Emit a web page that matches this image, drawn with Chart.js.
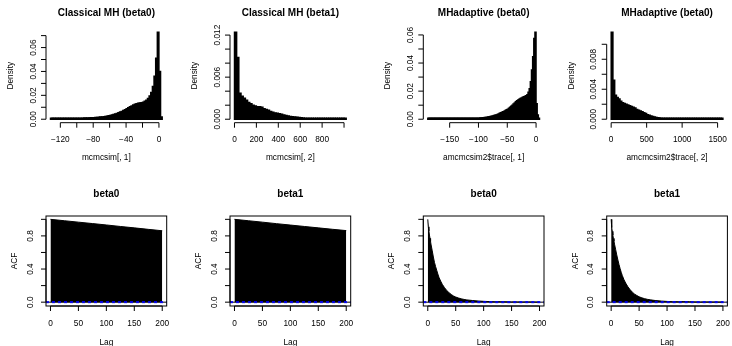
<!DOCTYPE html>
<html>
<head>
<meta charset="utf-8">
<title>MH vs MHadaptive: posterior histograms and ACF</title>
<script src="https://cdn.jsdelivr.net/npm/chart.js@4.4.1/dist/chart.umd.min.js"></script>
<style>
  html, body { margin: 0; padding: 0; background: #fff; }
  #wrap { position: relative; width: 732px; height: 346px; }
  #wrap canvas { position: absolute; left: 0; top: 0; }
</style>
</head>
<body>
<div id="wrap"></div>
<script>
// ---- histogram data (density per bin) ----

// Classical MH beta0: bins of width 2 from -132 to 4
const mh0From = -132, mh0By = 2;
const mh0Density = [
  0.0003, 0.0003, 0.0003, 0.0003, 0.0004, 0.0004, 0.0004, 0.0004,
  0.0005, 0.0005, 0.0005, 0.0006, 0.0006, 0.0006, 0.0007, 0.0007,
  0.0008, 0.0008, 0.0009, 0.0009, 0.0010, 0.0010, 0.0011, 0.0011,
  0.0012, 0.0013, 0.0013, 0.0014, 0.0015, 0.0016, 0.0018, 0.0019,
  0.0021, 0.0023, 0.0026, 0.0029, 0.0032, 0.0036, 0.0040, 0.0044,
  0.0049, 0.0054, 0.0060, 0.0066, 0.0073, 0.0080, 0.0088, 0.0096,
  0.0104, 0.0112, 0.0119, 0.0126, 0.0131, 0.0134, 0.0136, 0.0139,
  0.0143, 0.0150, 0.0160, 0.0174, 0.0194, 0.0225, 0.0275, 0.0360,
  0.0510, 0.0728, 0.0400, 0.0020
];

// Classical MH beta1: bins of width 20 from 0 to 1020
const mh1From = 0, mh1By = 20;
const mh1Density = [
  0.0124, 0.0088, 0.0037, 0.0033, 0.0030, 0.0027, 0.0024, 0.0022,
  0.0020, 0.0019, 0.0018, 0.0018, 0.0017, 0.0015, 0.0014, 0.0013,
  0.0011, 0.0010, 0.0009, 0.00085, 0.0008, 0.0007, 0.0006, 0.00053,
  0.00047, 0.0004, 0.00036, 0.00032, 0.00028, 0.00025, 0.00021, 0.00018,
  0.00015, 0.00013, 0.00011, 0.0001, 0.00008, 0.00007, 0.00006, 0.00005,
  0.00005, 0.00004, 0.00004, 0.00003, 0.00003, 0.00003, 0.00002, 0.00002,
  0.00002, 0.00001, 0.00001
];

// MHadaptive beta0: bins of width 2 from -188 to 6
const amh0From = -188, amh0By = 2;
const amh0Density = [
  0.00003, 0.00003, 0.00004, 0.00004, 0.00005, 0.00005, 0.00006, 0.00006,
  0.00007, 0.00007, 0.00008, 0.00008, 0.00009, 0.0001, 0.0001, 0.00011,
  0.00012, 0.00013, 0.00014, 0.00015, 0.00016, 0.00017, 0.00019, 0.0002,
  0.00022, 0.00024, 0.00026, 0.00028, 0.0003, 0.00033, 0.00036, 0.0004,
  0.00042, 0.00044, 0.00046, 0.00048, 0.0005, 0.00052, 0.00055, 0.00058,
  0.00061, 0.00065, 0.0007, 0.00075, 0.0008, 0.00086, 0.00093, 0.001,
  0.0011, 0.0012, 0.00133, 0.00146, 0.0016, 0.00177, 0.00195, 0.00214,
  0.00235, 0.0026, 0.0029, 0.0031, 0.0034, 0.0038, 0.0042, 0.0046,
  0.0050, 0.0054, 0.0058, 0.0062, 0.0067, 0.0072, 0.0078, 0.0085,
  0.0092, 0.0100, 0.0108, 0.0116, 0.0124, 0.0131, 0.0137, 0.0143,
  0.0148, 0.0152, 0.0156, 0.0160, 0.0164, 0.0168, 0.0175, 0.0192,
  0.0218, 0.0268, 0.0350, 0.0445, 0.0575, 0.0619, 0.0110, 0.0030,
  0.0004
];

// MHadaptive beta1: bins of width 25 from 0 to 1575
const amh1From = 0, amh1By = 25;
const amh1Density = [
  0.0116, 0.0052, 0.0032, 0.0029, 0.0027, 0.0024, 0.0022, 0.0021,
  0.0020, 0.0019, 0.0018, 0.0017, 0.0016, 0.0015, 0.0013, 0.0012,
  0.0011, 0.0010, 0.00088, 0.00076, 0.00062, 0.00052, 0.00044, 0.00036,
  0.0003, 0.00025, 0.00021, 0.00017, 0.00014, 0.00012, 0.0001, 0.00009,
  0.00008, 0.00007, 0.00006, 0.00005, 0.00004, 0.00004, 0.00003, 0.00003,
  0.00003, 0.00003, 0.00002, 0.00002, 0.00002, 0.00002, 0.00002, 0.00002,
  0.00001, 0.00001, 0.00001, 0.00001, 0.00001, 0.00001, 0.00001, 0.00001,
  0.00001, 0.00001, 0.00001, 0.00001, 0.00001, 0.00001, 0.00001
];

// ---- autocorrelation data ----
const acfLagsMh = [0, 25, 50, 75, 100, 125, 150, 175, 200];
const acfMh0 = [1.0, 0.983, 0.966, 0.949, 0.932, 0.914, 0.897, 0.879, 0.862];
const acfMh1 = [1.0, 0.983, 0.966, 0.948, 0.931, 0.914, 0.897, 0.880, 0.864];

const acfLagsAmh = [0, 1, 2, 3, 4, 5, 6, 8, 10, 12, 14, 16, 18, 20, 23, 26, 30, 34, 38, 42,
  46, 50, 55, 60, 65, 70, 80, 90, 100, 110, 120, 130, 140, 150, 160, 170, 180, 190, 200];
const acfAmh0 = [1.0, 0.91, 0.86, 0.81, 0.77, 0.73, 0.69, 0.62, 0.545, 0.48, 0.43, 0.385, 0.34, 0.30,
  0.255, 0.215, 0.175, 0.14, 0.115, 0.093, 0.075, 0.062, 0.05, 0.04, 0.033, 0.027,
  0.02, 0.014, 0.01, 0.007, 0.005, 0.006, 0.004, 0.003, 0.003, 0.002, 0.003, 0.002, 0.001];
const acfAmh1 = [1.0, 0.90, 0.855, 0.81, 0.77, 0.735, 0.70, 0.635, 0.57, 0.51, 0.455, 0.405, 0.36, 0.32,
  0.27, 0.23, 0.185, 0.15, 0.12, 0.097, 0.08, 0.065, 0.052, 0.042, 0.034, 0.028,
  0.019, 0.013, 0.009, 0.006, 0.005, 0.007, 0.005, 0.003, 0.002, 0.003, 0.002, 0.002, 0.001];
const acfCi = 0.006;   // +/- confidence band (blue dashed)

// ---- axis ticks ----
const mh0XTicks = [-120, -100, -80, -60, -40, -20, 0];
const mh0XLabels = ['−120', '', '−80', '', '−40', '', '0'];
const mh0YTicks = [0, 0.01, 0.02, 0.03, 0.04, 0.05, 0.06, 0.07];
const mh0YLabels = ['0.00', '', '0.02', '', '0.04', '', '0.06', ''];

const mh1XTicks = [0, 200, 400, 600, 800, 1000];
const mh1XLabels = ['0', '200', '400', '600', '800', ''];
const mh1YTicks = [0, 0.002, 0.004, 0.006, 0.008, 0.010, 0.012];
const mh1YLabels = ['0.000', '', '', '0.006', '', '', '0.012'];

const amh0XTicks = [-150, -100, -50, 0];
const amh0XLabels = ['−150', '−100', '−50', '0'];
const amh0YTicks = [0, 0.01, 0.02, 0.03, 0.04, 0.05, 0.06];
const amh0YLabels = ['0.00', '', '0.02', '', '0.04', '', '0.06'];

const amh1XTicks = [0, 500, 1000, 1500];
const amh1XLabels = ['0', '500', '1000', '1500'];
const amh1YTicks = [0, 0.002, 0.004, 0.006, 0.008, 0.010];
const amh1YLabels = ['0.000', '', '0.004', '', '0.008', ''];

const lagTicks = [0, 50, 100, 150, 200];
const lagLabels = ['0', '50', '100', '150', '200'];
const acfTicks = [0, 0.2, 0.4, 0.6, 0.8, 1.0];
const acfLabels = ['0.0', '', '0.4', '', '0.8', ''];

// ---- layout (R-like plot regions) ----
const FONT = '"Liberation Sans", Arial, Helvetica, sans-serif';
const W = 732, H = 346;
const colLeft = [46, 230, 423.3, 606.7];
const plotW = 120.7;
const rows = [
  { top: 28.8, bottom: 122.7, tick: 5, xTickText: 18.8, xlabGap: 37.3, titleGap: 13.3, yTickText: 10.5, ylabGap: 33 },
  { top: 216, bottom: 306, tick: 5, xTickText: 20, xlabGap: 39, titleGap: 19.5, yTickText: 13.5, ylabGap: 29 }
];

function ext(lo, hi) {   // R's 4% axis extension
  const d = (hi - lo) * 0.04;
  return [lo - d, hi + d];
}

function seg(ctx, x1, y1, x2, y2) {
  ctx.beginPath();
  ctx.moveTo(x1, y1);
  ctx.lineTo(x2, y2);
  ctx.stroke();
}

function vText(ctx, t, x, y) {
  ctx.save();
  ctx.translate(x, y);
  ctx.rotate(-Math.PI / 2);
  ctx.textAlign = 'center';
  ctx.textBaseline = 'alphabetic';
  ctx.fillText(t, 0, 0);
  ctx.restore();
}

// draws base-graphics style axes, box, titles and acf reference lines
const rStyle = {
  id: 'rStyle',
  afterDatasetsDraw(chart, args, o) {
    const { ctx, chartArea: a } = chart;
    const xs = chart.scales.x, ys = chart.scales.y;
    ctx.save();
    ctx.lineWidth = 1;
    ctx.strokeStyle = '#000';
    ctx.fillStyle = '#000';

    if (o.ci) {
      const y0 = ys.getPixelForValue(0);
      seg(ctx, a.left, y0, a.right, y0);
      ctx.strokeStyle = '#0000ff';
      ctx.setLineDash([3, 3]);
      [o.ci, -o.ci].forEach(v => {
        const p = ys.getPixelForValue(v);
        seg(ctx, a.left, p, a.right, p);
      });
      ctx.setLineDash([]);
      ctx.strokeStyle = '#000';
      ctx.strokeRect(a.left, a.top, a.right - a.left, a.bottom - a.top);
    }

    ctx.font = '8.3px ' + FONT;
    ctx.textAlign = 'center';
    ctx.textBaseline = 'alphabetic';

    // x axis
    const px = o.xTicks.map(v => xs.getPixelForValue(v));
    seg(ctx, px[0], a.bottom, px[px.length - 1], a.bottom);
    px.forEach((p, i) => {
      seg(ctx, p, a.bottom, p, a.bottom + o.tick);
      if (o.xLabels[i]) ctx.fillText(o.xLabels[i], p, a.bottom + o.xTickText);
    });

    // y axis
    const py = o.yTicks.map(v => ys.getPixelForValue(v));
    seg(ctx, a.left, py[0], a.left, py[py.length - 1]);
    py.forEach((p, i) => {
      seg(ctx, a.left - o.tick, p, a.left, p);
      if (o.yLabels[i]) vText(ctx, o.yLabels[i], a.left - o.yTickText, p);
    });

    const cx = (a.left + a.right) / 2;
    ctx.fillText(o.xlab, cx, a.bottom + o.xlabGap);
    vText(ctx, o.ylab, a.left - o.ylabGap, (a.top + a.bottom) / 2);

    ctx.font = 'bold 10px ' + FONT;
    ctx.fillText(o.title, cx, a.top - o.titleGap);
    ctx.restore();
  }
};

function makeChart(col, row, type, dataset, xr, yr, ax) {
  const cv = document.createElement('canvas');
  cv.width = W;
  cv.height = H;
  document.getElementById('wrap').appendChild(cv);
  const r = rows[row];
  return new Chart(cv, {
    type: type,
    data: { datasets: [dataset] },
    options: {
      responsive: false,
      animation: false,
      events: [],
      layout: {
        padding: { left: colLeft[col], top: r.top, right: W - colLeft[col] - plotW, bottom: H - r.bottom }
      },
      scales: {
        x: { type: 'linear', display: false, offset: false, min: xr[0], max: xr[1],
             ticks: { includeBounds: false, stepSize: ax.xTicks[1] - ax.xTicks[0] } },
        y: { type: 'linear', display: false, min: yr[0], max: yr[1],
             ticks: { includeBounds: false } }
      },
      plugins: {
        legend: { display: false },
        tooltip: { enabled: false },
        rStyle: Object.assign({}, r, ax)
      }
    },
    plugins: [rStyle]
  });
}

function histChart(col, from, by, dens, ax) {
  const to = from + by * dens.length;
  makeChart(col, 0, 'bar', {
    data: dens.map((d, i) => ({ x: from + by * (i + 0.5), y: d })),
    backgroundColor: '#000',
    borderWidth: 0,
    inflateAmount: 0.7,   // close the anti-aliasing seams between adjacent bins
    minBarLength: 1,
    barPercentage: 1,
    categoryPercentage: 1
  }, ext(from, to), ext(0, Math.max(...dens)), Object.assign({ ylab: 'Density' }, ax));
}

function acfChart(col, lags, acf, title) {
  makeChart(col, 1, 'line', {
    data: lags.map((l, i) => ({ x: l, y: acf[i] })),
    fill: 'origin',
    backgroundColor: '#000',
    borderColor: '#000',
    borderWidth: 1,
    pointRadius: 0,
    tension: 0
  }, ext(lags[0], lags[lags.length - 1]), ext(-acfCi, 1), {
    title: title, xlab: 'Lag', ylab: 'ACF', ci: acfCi,
    xTicks: lagTicks, xLabels: lagLabels, yTicks: acfTicks, yLabels: acfLabels
  });
}

histChart(0, mh0From, mh0By, mh0Density, {
  title: 'Classical MH (beta0)', xlab: 'mcmcsim[, 1]',
  xTicks: mh0XTicks, xLabels: mh0XLabels, yTicks: mh0YTicks, yLabels: mh0YLabels
});
histChart(1, mh1From, mh1By, mh1Density, {
  title: 'Classical MH (beta1)', xlab: 'mcmcsim[, 2]',
  xTicks: mh1XTicks, xLabels: mh1XLabels, yTicks: mh1YTicks, yLabels: mh1YLabels
});
histChart(2, amh0From, amh0By, amh0Density, {
  title: 'MHadaptive (beta0)', xlab: 'amcmcsim2$trace[, 1]',
  xTicks: amh0XTicks, xLabels: amh0XLabels, yTicks: amh0YTicks, yLabels: amh0YLabels
});
histChart(3, amh1From, amh1By, amh1Density, {
  title: 'MHadaptive (beta0)', xlab: 'amcmcsim2$trace[, 2]',
  xTicks: amh1XTicks, xLabels: amh1XLabels, yTicks: amh1YTicks, yLabels: amh1YLabels
});

acfChart(0, acfLagsMh, acfMh0, 'beta0');
acfChart(1, acfLagsMh, acfMh1, 'beta1');
acfChart(2, acfLagsAmh, acfAmh0, 'beta0');
acfChart(3, acfLagsAmh, acfAmh1, 'beta1');
</script>
</body>
</html>
